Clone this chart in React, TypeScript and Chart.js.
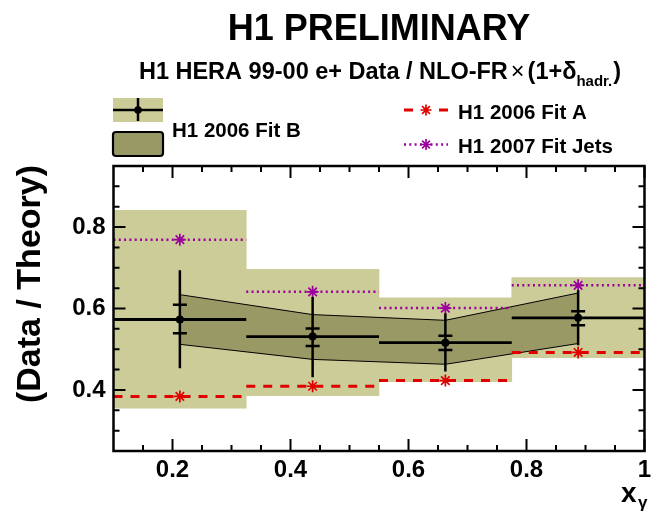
import React, { useEffect, useRef } from 'react';
import { Chart, registerables } from 'chart.js';

Chart.register(...registerables);

// ---- data ----
const binLabels = ['0.100-0.325', '0.325-0.550', '0.550-0.775', '0.775-1.000'];
const binLow = [0.1, 0.325, 0.55, 0.775];
const binHigh = [0.325, 0.55, 0.775, 1.0];
const binCenter = [0.2125, 0.4375, 0.6625, 0.8875];

const dataValue = [0.573, 0.531, 0.516, 0.577];
const statLow = [0.539, 0.508, 0.498, 0.559];
const statHigh = [0.609, 0.551, 0.533, 0.593];
const totalLow = [0.453, 0.431, 0.445, 0.51];
const totalHigh = [0.694, 0.628, 0.588, 0.645];

const scaleBandLow = [0.355, 0.386, 0.42, 0.479];
const scaleBandHigh = [0.841, 0.696, 0.626, 0.676];

const fitBLow = [0.512, 0.475, 0.463, 0.514];
const fitBHigh = [0.634, 0.585, 0.571, 0.638];

const fitA = [0.384, 0.409, 0.423, 0.492];
const fitJets = [0.769, 0.641, 0.601, 0.657];

const xTickValues = [0.2, 0.4, 0.6, 0.8, 1.0];
const xTickLabels = ['0.2', '0.4', '0.6', '0.8', '1'];
const yTickValues = [0.4, 0.6, 0.8];
const yTickLabels = ['0.4', '0.6', '0.8'];
const xMinorTicks = [0.15, 0.25, 0.3, 0.35, 0.45, 0.5, 0.55, 0.65, 0.7, 0.75, 0.85, 0.9, 0.95];
const yMinorTicks = [0.3, 0.35, 0.45, 0.5, 0.55, 0.65, 0.7, 0.75, 0.85, 0.9];

const titleText = 'H1 PRELIMINARY';
const subtitleMain = 'H1 HERA 99-00 e+ Data / NLO-FR';
const subtitleTimes = '\u00D7';
const subtitleFactor = '(1+\u03B4';
const subtitleSub = 'hadr.';
const subtitleClose = ')';
const legendFitB = 'H1 2006 Fit B';
const legendFitA = 'H1 2006 Fit A';
const legendJets = 'H1 2007 Fit Jets';
const yTitle = '(Data / Theory)';
const xTitle = 'x';
const xTitleSub = '\u03B3';

// ---- styles ----
const FONT = "'Liberation Sans', Arial, Helvetica, sans-serif";
const LIGHT = '#cccc99';
const DARK = '#999966';
const RED = '#e00000';
const MAGENTA = '#9c009c';

function stepSegments(values: number[]) {
  const pts: { x: number; y: number | null }[] = [];
  values.forEach((v, i) => {
    pts.push({ x: binLow[i], y: v }, { x: binHigh[i], y: v }, { x: binHigh[i], y: null });
  });
  return pts;
}

function verticalSegments(lo: number[], hi: number[]) {
  const pts: { x: number; y: number | null }[] = [];
  lo.forEach((l, i) => {
    pts.push({ x: binCenter[i], y: l }, { x: binCenter[i], y: hi[i] }, { x: binCenter[i], y: null });
  });
  return pts;
}

function centerPoints(values: number[]) {
  return values.map((v, i) => ({ x: binCenter[i], y: v }));
}

function drawStar(ctx: CanvasRenderingContext2D, x: number, y: number, r: number, color: string) {
  ctx.save();
  ctx.strokeStyle = color;
  ctx.lineWidth = 1.7;
  ctx.setLineDash([]);
  ctx.beginPath();
  for (let k = 0; k < 4; k++) {
    const a = (k * Math.PI) / 4;
    ctx.moveTo(x - r * Math.cos(a), y - r * Math.sin(a));
    ctx.lineTo(x + r * Math.cos(a), y + r * Math.sin(a));
  }
  ctx.stroke();
  ctx.restore();
}

const framePlugin = {
  id: 'rootFrame',
  afterDatasetsDraw(chart: any) {
    const { ctx, chartArea } = chart;
    const xs = chart.scales.x;
    const ys = chart.scales.y;
    const { left, right, top, bottom } = chartArea;
    ctx.save();
    ctx.strokeStyle = '#000';
    ctx.lineWidth = 2;
    ctx.beginPath();
    const major = 12;
    const minor = 6;
    xTickValues.forEach((v) => {
      const p = xs.getPixelForValue(v);
      ctx.moveTo(p, bottom); ctx.lineTo(p, bottom - major);
      ctx.moveTo(p, top); ctx.lineTo(p, top + major);
    });
    xMinorTicks.forEach((v) => {
      const p = xs.getPixelForValue(v);
      ctx.moveTo(p, bottom); ctx.lineTo(p, bottom - minor);
      ctx.moveTo(p, top); ctx.lineTo(p, top + minor);
    });
    yTickValues.forEach((v) => {
      const p = ys.getPixelForValue(v);
      ctx.moveTo(left, p); ctx.lineTo(left + major, p);
      ctx.moveTo(right, p); ctx.lineTo(right - major, p);
    });
    yMinorTicks.forEach((v) => {
      const p = ys.getPixelForValue(v);
      ctx.moveTo(left, p); ctx.lineTo(left + minor, p);
      ctx.moveTo(right, p); ctx.lineTo(right - minor, p);
    });
    ctx.stroke();
    ctx.lineWidth = 2.5;
    ctx.strokeRect(left, top, right - left, bottom - top);
    ctx.restore();
  },
};

const textPlugin = {
  id: 'rootText',
  afterDraw(chart: any) {
    const { ctx } = chart;
    ctx.save();
    ctx.fillStyle = '#000';
    ctx.textBaseline = 'alphabetic';

    // title
    ctx.font = `bold 36px ${FONT}`;
    ctx.textAlign = 'center';
    ctx.fillText(titleText, 379, 39.5);

    // subtitle
    ctx.textAlign = 'left';
    const big = `bold 23.5px ${FONT}`;
    const sub = `bold 15px ${FONT}`;
    const times = `23.5px ${FONT}`;
    ctx.font = big;
    const w1 = ctx.measureText(subtitleMain).width;
    ctx.font = times;
    const w2 = ctx.measureText(subtitleTimes).width;
    ctx.font = big;
    const w3 = ctx.measureText(subtitleFactor).width;
    const w5 = ctx.measureText(subtitleClose).width;
    ctx.font = sub;
    const w4 = ctx.measureText(subtitleSub).width;
    const gap = 3;
    const total = w1 + gap + w2 + gap + w3 + w4 + 1 + w5;
    let sx = 380 - total / 2;
    const sy = 78.5;
    ctx.font = big;
    ctx.fillText(subtitleMain, sx, sy);
    sx += w1 + gap;
    ctx.font = times;
    ctx.fillText(subtitleTimes, sx, sy);
    sx += w2 + gap;
    ctx.font = big;
    ctx.fillText(subtitleFactor, sx, sy);
    sx += w3;
    ctx.font = sub;
    ctx.fillText(subtitleSub, sx, sy + 7);
    sx += w4 + 1;
    ctx.font = big;
    ctx.fillText(subtitleClose, sx, sy);

    // legend: data box with cross
    ctx.fillStyle = LIGHT;
    ctx.fillRect(113, 98, 50, 24);
    ctx.strokeStyle = '#000';
    ctx.lineWidth = 2.5;
    ctx.beginPath();
    ctx.moveTo(113, 110); ctx.lineTo(163, 110);
    ctx.moveTo(138, 98); ctx.lineTo(138, 121);
    ctx.stroke();
    ctx.fillStyle = '#000';
    ctx.beginPath();
    ctx.arc(138, 110, 3.8, 0, Math.PI * 2);
    ctx.fill();

    // legend: fit B box
    ctx.fillStyle = DARK;
    ctx.lineWidth = 2.2;
    ctx.beginPath();
    if ((ctx as any).roundRect) (ctx as any).roundRect(113, 132, 50, 24, 3);
    else ctx.rect(113, 132, 50, 24);
    ctx.fill();
    ctx.stroke();

    ctx.fillStyle = '#000';
    ctx.font = `bold 20.5px ${FONT}`;
    ctx.fillText(legendFitB, 172, 137);

    // legend: fit A
    ctx.strokeStyle = RED;
    ctx.lineWidth = 3;
    ctx.beginPath();
    ctx.moveTo(404, 110); ctx.lineTo(413, 110);
    ctx.moveTo(439, 110); ctx.lineTo(448, 110);
    ctx.stroke();
    drawStar(ctx, 426, 110, 5.5, RED);
    ctx.fillText(legendFitA, 458, 119);

    // legend: fit jets
    ctx.strokeStyle = MAGENTA;
    ctx.lineWidth = 2.5;
    ctx.setLineDash([2, 3.3]);
    ctx.beginPath();
    ctx.moveTo(404, 144.5); ctx.lineTo(448, 144.5);
    ctx.stroke();
    ctx.setLineDash([]);
    drawStar(ctx, 426, 144.5, 5.5, MAGENTA);
    ctx.fillStyle = '#000';
    ctx.fillText(legendJets, 458, 153);

    // y title
    ctx.save();
    ctx.translate(31, 284);
    ctx.rotate(-Math.PI / 2);
    ctx.textAlign = 'center';
    ctx.textBaseline = 'middle';
    ctx.font = `bold 34px ${FONT}`;
    ctx.fillText(yTitle, 0, 0);
    ctx.restore();

    // x title
    ctx.textAlign = 'left';
    ctx.font = `bold 28px ${FONT}`;
    ctx.fillText(xTitle, 621, 502);
    ctx.font = `bold 17px ${FONT}`;
    ctx.fillText(xTitleSub, 638, 508);

    ctx.restore();
  },
};

export default function App() {
  const canvasRef = useRef<HTMLCanvasElement | null>(null);

  useEffect(() => {
    document.body.style.margin = '0';
    const canvas = canvasRef.current;
    if (!canvas) return;

    const lineBase = { pointRadius: 0, pointHoverRadius: 0, spanGaps: false, fill: false, xAxisID: 'x', yAxisID: 'y', tension: 0 };

    const chart = new Chart(canvas, {
      type: 'line',
      data: {
        labels: binLabels,
        datasets: [
          {
            type: 'bar',
            label: 'scale uncertainty',
            data: scaleBandLow.map((l, i) => [l, scaleBandHigh[i]]),
            backgroundColor: LIGHT,
            borderWidth: 0,
            borderSkipped: false,
            barPercentage: 1,
            categoryPercentage: 1,
            grouped: false,
            xAxisID: 'xb',
            yAxisID: 'y',
            order: 10,
          } as any,
          {
            ...lineBase,
            label: 'Fit B high',
            data: centerPoints(fitBHigh),
            borderColor: '#000',
            borderWidth: 1,
            order: 8,
          },
          {
            ...lineBase,
            label: 'Fit B low',
            data: centerPoints(fitBLow),
            borderColor: '#000',
            borderWidth: 1,
            fill: 1,
            backgroundColor: DARK,
            order: 9,
          },
          {
            ...lineBase,
            label: 'H1 2006 Fit A',
            data: stepSegments(fitA),
            borderColor: RED,
            borderWidth: 3,
            borderDash: [9, 8],
            order: 7,
          },
          {
            ...lineBase,
            label: 'H1 2007 Fit Jets',
            data: stepSegments(fitJets),
            borderColor: MAGENTA,
            borderWidth: 2.5,
            borderDash: [2, 3.3],
            order: 7,
          },
          {
            ...lineBase,
            label: 'Fit A markers',
            data: centerPoints(fitA),
            showLine: false,
            pointStyle: 'star',
            pointRadius: 6,
            pointBorderColor: RED,
            pointBorderWidth: 1.7,
            order: 6,
          },
          {
            ...lineBase,
            label: 'Jets markers',
            data: centerPoints(fitJets),
            showLine: false,
            pointStyle: 'star',
            pointRadius: 6,
            pointBorderColor: MAGENTA,
            pointBorderWidth: 1.7,
            order: 6,
          },
          {
            ...lineBase,
            label: 'data bins',
            data: stepSegments(dataValue),
            borderColor: '#000',
            borderWidth: 2.8,
            order: 3,
          },
          {
            ...lineBase,
            label: 'total error',
            data: verticalSegments(totalLow, totalHigh),
            borderColor: '#000',
            borderWidth: 2.5,
            order: 3,
          },
          {
            ...lineBase,
            label: 'stat error',
            data: [...centerPoints(statLow), ...centerPoints(statHigh)],
            showLine: false,
            pointStyle: 'line',
            pointRadius: 7,
            pointBorderColor: '#000',
            pointBorderWidth: 2.5,
            order: 2,
          },
          {
            ...lineBase,
            label: 'data',
            data: centerPoints(dataValue),
            showLine: false,
            pointStyle: 'circle',
            pointRadius: 4,
            pointBackgroundColor: '#000',
            pointBorderColor: '#000',
            pointBorderWidth: 0,
            order: 1,
          },
        ] as any,
      },
      options: {
        animation: false,
        responsive: false,
        devicePixelRatio: 1,
        events: [],
        layout: { padding: { left: 63.5, right: 6, top: 166, bottom: 0 } },
        plugins: {
          legend: { display: false },
          tooltip: { enabled: false },
          title: { display: false },
        },
        scales: {
          x: {
            type: 'linear',
            min: 0.1,
            max: 1.0,
            offset: false,
            position: 'bottom',
            grid: { display: false, drawTicks: false },
            border: { display: false },
            afterBuildTicks: (axis: any) => {
              axis.ticks = xTickValues.map((v) => ({ value: v }));
            },
            afterFit: (axis: any) => {
              axis.height = 62;
              axis.paddingLeft = 0;
              axis.paddingRight = 0;
            },
            ticks: {
              autoSkip: false,
              maxRotation: 0,
              minRotation: 0,
              padding: 5,
              color: '#000',
              font: { family: FONT, size: 24, weight: 'bold' },
              callback: (v: any) => {
                const i = xTickValues.indexOf(Number(v));
                return i >= 0 ? xTickLabels[i] : '';
              },
            },
          },
          xb: {
            type: 'category',
            labels: binLabels,
            offset: true,
            display: false,
            position: 'bottom',
            grid: { display: false },
          },
          y: {
            type: 'linear',
            min: 0.25,
            max: 0.95,
            position: 'left',
            grid: { display: false, drawTicks: false },
            border: { display: false },
            afterBuildTicks: (axis: any) => {
              axis.ticks = yTickValues.map((v) => ({ value: v }));
            },
            afterFit: (axis: any) => {
              axis.width = 50;
              axis.paddingTop = 0;
              axis.paddingBottom = 0;
            },
            ticks: {
              autoSkip: false,
              padding: 8,
              color: '#000',
              font: { family: FONT, size: 24, weight: 'bold' },
              callback: (v: any) => {
                const i = yTickValues.indexOf(Number(v));
                return i >= 0 ? yTickLabels[i] : '';
              },
            },
          },
        },
      } as any,
      plugins: [framePlugin, textPlugin],
    });

    return () => {
      chart.destroy();
    };
  }, []);

  return (
    <div style={{ width: 654, height: 513, position: 'relative', background: '#fff' }}>
      <canvas ref={canvasRef} width={654} height={513} style={{ width: 654, height: 513, display: 'block' }} />
    </div>
  );
}
